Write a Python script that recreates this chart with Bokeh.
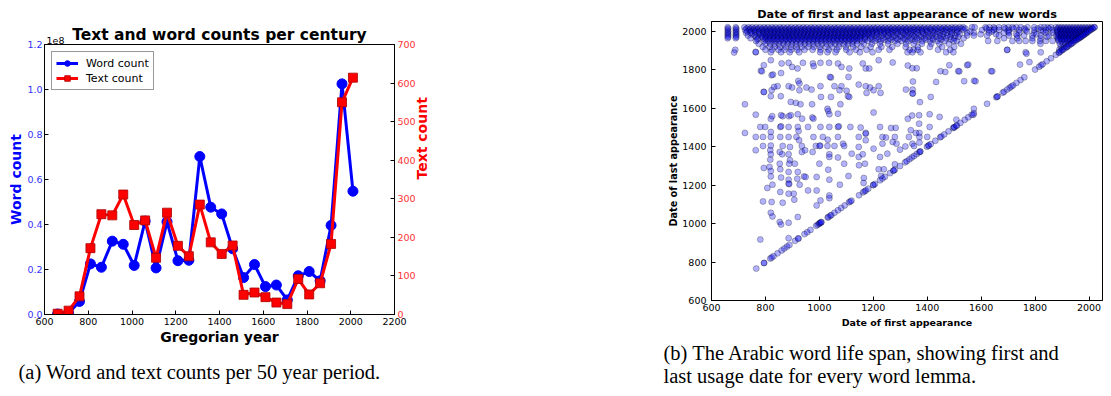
import math
from bokeh.plotting import figure
from bokeh.models import (Range1d, LinearAxis, Legend, LegendItem, Title,
                          FixedTicker, NumeralTickFormatter)
from bokeh.layouts import row
from bokeh.embed import file_html
from bokeh.resources import INLINE

# ---------------- Left panel data ----------------
years = [660, 710, 760, 810, 860, 910, 960, 1010, 1060, 1110, 1160, 1210, 1260, 1310,
         1360, 1410, 1460, 1510, 1560, 1610, 1660, 1710, 1760, 1810, 1860, 1910, 1960, 2010]
word_count_1e8 = [0.002, 0.006, 0.058, 0.225, 0.210, 0.326, 0.312, 0.218, 0.415, 0.207,
                  0.412, 0.239, 0.241, 0.702, 0.477, 0.447, 0.292, 0.164, 0.222, 0.124,
                  0.131, 0.065, 0.172, 0.191, 0.150, 0.396, 1.025, 0.548]
text_count = [2, 10, 47, 172, 260, 257, 311, 232, 244, 147, 264, 178, 151, 285,
              187, 157, 179, 51, 57, 45, 31, 27, 92, 52, 81, 183, 550, 614]
left_x_ticks = [600, 800, 1000, 1200, 1400, 1600, 1800, 2000, 2200]
word_ticks = [0.0, 0.2, 0.4, 0.6, 0.8, 1.0, 1.2]
text_ticks = [0, 100, 200, 300, 400, 500, 600, 700]

# ---------------- Right panel data (first / last appearance) ----------------
right_ticks = [600, 800, 1000, 1200, 1400, 1600, 1800, 2000]

band_levels = [2020, 2013, 2006, 1998, 1991, 1984, 1977, 1970, 1963, 1956, 1949, 1934, 1918,
               1903, 1890]
band_2020 = [660, 690, 722, 737, 751, 766, 780, 795, 809, 824, 838, 853, 867, 882, 896, 911, 925,
             940, 954, 969, 983, 998, 1012, 1027, 1041, 1056, 1070, 1085, 1099, 1114, 1128, 1143,
             1157, 1172, 1186, 1201, 1215, 1230, 1244, 1259, 1273, 1288, 1302, 1317, 1331, 1346,
             1360, 1375, 1389, 1404, 1418, 1433, 1447, 1462, 1476, 1491, 1505, 1520, 1534, 1566,
             1576, 1616, 1631, 1647, 1666, 1685, 1701, 1716, 1731, 1747, 1772, 1797, 1821, 1834,
             1846, 1859, 1877, 1888, 1899, 1910, 1921, 1932, 1943, 1954, 1965, 1976, 1987, 1998,
             2009, 2020]
band_2013 = [662, 692, 730, 744, 759, 773, 788, 802, 817, 831, 846, 860, 875, 889, 904, 918, 933,
             947, 962, 976, 991, 1005, 1020, 1034, 1049, 1063, 1078, 1092, 1107, 1121, 1136, 1150,
             1165, 1179, 1194, 1208, 1223, 1237, 1252, 1266, 1281, 1295, 1310, 1324, 1339, 1353,
             1368, 1382, 1397, 1411, 1426, 1440, 1455, 1469, 1484, 1498, 1513, 1527, 1541, 1620,
             1650, 1690, 1720, 1760, 1810, 1852, 1883, 1894, 1905, 1916, 1927, 1938, 1949, 1960,
             1971, 1982, 1993, 2004, 2013]
band_2006 = [660, 690, 725, 741, 756, 770, 786, 800, 815, 829, 844, 858, 873, 887, 902, 916, 931,
             945, 960, 974, 989, 1003, 1018, 1032, 1047, 1061, 1076, 1090, 1105, 1119, 1134, 1148,
             1163, 1177, 1192, 1206, 1221, 1235, 1250, 1264, 1279, 1293, 1308, 1322, 1337, 1351,
             1366, 1380, 1395, 1412, 1430, 1452, 1470, 1492, 1510, 1535, 1603, 1629, 1647, 1666,
             1703, 1741, 1765, 1797, 1821, 1840, 1865, 1882, 1893, 1904, 1915, 1926, 1937, 1948,
             1959, 1970, 1981, 1992, 2003]
band_1998 = [662, 692, 733, 748, 763, 777, 792, 806, 820, 834, 848, 862, 876, 890, 904, 918, 932,
             946, 960, 974, 988, 1002, 1016, 1030, 1044, 1058, 1072, 1086, 1100, 1114, 1128, 1142,
             1156, 1170, 1184, 1198, 1212, 1226, 1240, 1254, 1268, 1285, 1302, 1320, 1340, 1360,
             1380, 1400, 1420, 1440, 1462, 1485, 1515, 1560, 1640, 1700, 1770, 1830, 1881, 1892,
             1903, 1914, 1925, 1936, 1947, 1958, 1969, 1980, 1991]
band_1991 = [660, 690, 728, 745, 762, 778, 793, 807, 822, 836, 851, 865, 880, 894, 909, 923, 938,
             952, 967, 981, 996, 1010, 1025, 1039, 1054, 1068, 1083, 1097, 1112, 1126, 1141, 1155,
             1170, 1184, 1199, 1213, 1228, 1242, 1257, 1271, 1290, 1310, 1328, 1345, 1365, 1384,
             1402, 1425, 1448, 1472, 1492, 1510, 1548, 1573, 1629, 1685, 1703, 1741, 1797, 1840,
             1865, 1884, 1895, 1906, 1917, 1928, 1939, 1950, 1961, 1972, 1983, 1991]
band_1984 = [662, 692, 750, 775, 790, 804, 818, 832, 846, 860, 874, 888, 902, 916, 930, 944, 958,
             972, 986, 1000, 1014, 1028, 1042, 1056, 1070, 1084, 1098, 1112, 1126, 1140, 1154,
             1168, 1182, 1196, 1215, 1240, 1265, 1290, 1315, 1335, 1358, 1385, 1410, 1435, 1460,
             1490, 1520, 1598, 1655, 1730, 1805, 1886, 1897, 1908, 1919, 1930, 1941, 1952, 1963,
             1974, 1984]
band_1977 = [660, 690, 735, 760, 783, 798, 812, 827, 841, 856, 870, 885, 899, 914, 928, 943, 957,
             972, 986, 1001, 1015, 1030, 1044, 1059, 1073, 1088, 1102, 1117, 1131, 1146, 1160, 1175,
             1190, 1210, 1232, 1255, 1278, 1300, 1322, 1346, 1370, 1395, 1420, 1448, 1475, 1504,
             1548, 1573, 1622, 1666, 1703, 1734, 1759, 1790, 1821, 1852, 1878, 1889, 1900, 1911,
             1922, 1933, 1944, 1955, 1966, 1977]
band_1970 = [662, 692, 765, 787, 801, 815, 829, 843, 857, 871, 885, 899, 913, 927, 941, 955, 969,
             983, 997, 1011, 1025, 1039, 1053, 1067, 1081, 1095, 1109, 1123, 1137, 1151, 1170,
             1195, 1220, 1248, 1272, 1300, 1325, 1352, 1378, 1405, 1432, 1458, 1485, 1515, 1845,
             1883, 1894, 1905, 1916, 1927, 1938, 1949, 1960, 1970]
band_1963 = [660, 690, 745, 772, 790, 804, 819, 833, 848, 862, 877, 891, 906, 920, 935, 949, 964,
             978, 993, 1007, 1022, 1036, 1051, 1065, 1080, 1094, 1109, 1123, 1138, 1152, 1168, 1188,
             1210, 1235, 1260, 1285, 1312, 1338, 1362, 1390, 1418, 1445, 1470, 1500, 1535, 1685,
             1734, 1790, 1821, 1885, 1896, 1907, 1918, 1929, 1940, 1951, 1962]
band_1956 = [770, 800, 816, 831, 846, 861, 876, 891, 906, 921, 936, 951, 966, 981, 996, 1011,
             1026, 1041, 1056, 1071, 1086, 1101, 1116, 1131, 1148, 1170, 1195, 1218, 1242, 1268,
             1292, 1318, 1343, 1368, 1395, 1422, 1452, 1488, 1886, 1897, 1908, 1919, 1930, 1941,
             1952]
band_1949 = [765, 795, 810, 825, 840, 855, 870, 885, 900, 915, 930, 945, 960, 975, 990, 1005, 1020,
             1035, 1050, 1065, 1080, 1095, 1110, 1125, 1140, 1158, 1180, 1205, 1228, 1255, 1280,
             1305, 1330, 1356, 1382, 1410, 1438, 1465, 1498, 1510, 1626, 1660, 1716, 1741, 1765,
             1790, 1818, 1840, 1865, 1888, 1899, 1910, 1921, 1932, 1943]
band_1934 = [775, 800, 818, 834, 850, 866, 882, 898, 914, 930, 946, 962, 978, 994, 1010, 1026, 1042,
             1058, 1074, 1090, 1106, 1122, 1140, 1165, 1195, 1225, 1255, 1290, 1322, 1350, 1380,
             1415, 1445, 1480, 1525, 1820, 1892, 1903, 1914, 1925, 1934]
band_1918 = [790, 815, 835, 855, 875, 895, 915, 935, 958, 980, 1002, 1025, 1048, 1072, 1098, 1125,
             1155, 1190, 1230, 1270, 1320, 1365, 1410, 1455, 1500, 1896, 1907, 1918]
band_1903 = [688, 800, 825, 848, 870, 895, 918, 945, 975, 1005, 1035, 1065, 1100, 1135, 1175, 1220,
             1260, 1335, 1350, 1365, 1440, 1485, 1697, 1890, 1900]
band_1890 = [764, 820, 858, 890, 925, 1003, 1030, 1060, 1112, 1150, 1197, 1327, 1345, 1375, 1470,
             1497, 1765, 1821]
band_rows = [band_2020, band_2013, band_2006, band_1998, band_1991, band_1984, band_1977,
             band_1970, band_1963, band_1956, band_1949, band_1934, band_1918, band_1903,
             band_1890]

# (first, last) pairs for the scattered words between the band and the diagonal
mid_points = [
    (684, 1889), (764, 1892), (794, 1823), (783, 1794), (823, 1771), (820, 1849), (860, 1832),
    (886, 1835), (899, 1814), (919, 1806), (939, 1835), (976, 1832), (979, 1818), (1004, 1835),
    (1043, 1759), (1036, 1835), (1069, 1832), (1082, 1814), (1111, 1806), (1108, 1762),
    (1172, 1806), (1161, 1832), (1185, 1806), (1220, 1849), (1272, 1837), (1328, 1821),
    (1345, 1807), (1361, 1807), (1449, 1792), (1482, 1823), (1515, 1792), (1548, 1823),
    (1637, 1792), (1779, 1839), (1552, 1826), (1519, 1791), (1641, 1791), (1744, 1826),
    (1768, 1883), (1696, 1902), (858, 1782), (787, 1791), (828, 1774),
    (794, 1684), (823, 1693), (832, 1710), (845, 1714), (820, 1662), (857, 1662), (886, 1714),
    (899, 1707), (922, 1741), (926, 1728), (926, 1693), (952, 1707), (971, 1696), (1004, 1714),
    (1006, 1658), (1039, 1762), (1043, 1658), (1056, 1714), (1075, 1693), (1082, 1714),
    (1101, 1690), (1106, 1662), (1111, 1658), (1146, 1722), (1172, 1714), (1188, 1707),
    (1175, 1679), (1201, 1693), (1220, 1714), (1227, 1679), (1321, 1696), (1346, 1696),
    (1347, 1738), (1346, 1676), (1413, 1658), (1433, 1736), (1467, 1788), (1537, 1740),
    (1574, 1742), (1373, 1631), (1579, 1739), (724, 1620), (794, 1684), (1346, 1676),
    (764, 1566), (820, 1544), (825, 1558), (864, 1558), (858, 1563), (887, 1558), (894, 1563),
    (920, 1568), (936, 1545), (974, 1551), (978, 1545), (894, 1632), (913, 1627), (930, 1620),
    (973, 1620), (1030, 1596), (1033, 1585), (1037, 1568), (1069, 1571), (1078, 1620),
    (1201, 1577), (1328, 1544), (1344, 1561), (1370, 1563), (1409, 1568), (1446, 1554),
    (1508, 1540),
    (781, 1502), (799, 1502), (820, 1476), (820, 1450), (855, 1502), (858, 1505), (886, 1502),
    (920, 1502), (923, 1481), (958, 1502), (1004, 1502), (1037, 1502), (1069, 1502),
    (1072, 1505), (1115, 1502), (1153, 1499), (1172, 1471), (1225, 1502), (1266, 1497),
    (1283, 1497), (1339, 1485), (1370, 1519), (1409, 1502), (1332, 1450), (1358, 1471),
    (1371, 1471), (724, 1471),
    (764, 1450), (791, 1450), (791, 1403), (820, 1405), (855, 1450), (864, 1403), (886, 1450),
    (891, 1398), (915, 1450), (925, 1433), (935, 1403), (978, 1450), (987, 1403), (1001, 1403),
    (1003, 1405), (1013, 1450), (1031, 1436), (1030, 1403), (1069, 1450), (1056, 1403),
    (1088, 1415), (1092, 1403), (1146, 1450), (1146, 1398), (1172, 1467), (1172, 1433),
    (1201, 1389), (1234, 1450), (1234, 1415), (1247, 1447), (1272, 1424), (1280, 1450),
    (1286, 1415), (1299, 1384), (1319, 1401), (1345, 1415), (1351, 1403), (1371, 1421),
    (1400, 1450), (1371, 1450), (764, 1381),
    (818, 1381), (820, 1360), (818, 1332), (853, 1372), (862, 1360), (853, 1311), (886, 1360),
    (891, 1329), (888, 1311), (909, 1311), (935, 1372), (947, 1381), (975, 1372), (1000, 1311),
    (1037, 1360), (1037, 1346), (1069, 1343), (1092, 1311), (1120, 1363), (1146, 1346),
    (1161, 1360), (1169, 1311), (1147, 1303), (1225, 1346), (1252, 1363), (1280, 1308),
    (815, 1294),
    (794, 1289), (820, 1273), (820, 1245), (826, 1202), (855, 1282), (858, 1239), (886, 1268),
    (886, 1228), (886, 1207), (888, 1205), (920, 1268), (918, 1233), (927, 1202), (943, 1245),
    (949, 1242), (990, 1242), (1033, 1280), (1037, 1228), (1076, 1202), (1108, 1247),
    (1165, 1237), (1164, 1211), (1229, 1247), (1220, 1282), (1239, 1282),
    (807, 1185), (823, 1112), (791, 1115), (855, 1164), (864, 1108), (886, 1155), (905, 1155),
    (907, 1124), (958, 1172), (990, 1172), (1004, 1120), (1037, 1146), (1037, 1132),
    (990, 1094), (820, 1056), (826, 1037), (853, 1008), (858, 995), (886, 1004), (920, 1034),
    (781, 917), (886, 924), (1571, 1565), (1573, 1596),
]

# words whose first and last appearance fall in the same period (the diagonal)
diag_year = [766, 795, 795, 818, 823, 830, 845, 860, 870, 880, 889, 910, 922, 922, 945, 955, 967,
             988, 994, 1000, 1000, 1004, 1007, 1007, 1031, 1034, 1041, 1044, 1056, 1069, 1081,
             1094, 1110, 1115, 1119, 1147, 1162, 1168, 1172, 1181, 1200, 1200, 1206, 1225, 1234,
             1243, 1262, 1275, 1275, 1280, 1299, 1318, 1324, 1334, 1343, 1351, 1361, 1370, 1374,
             1374, 1399, 1405, 1405, 1413, 1430, 1448, 1452, 1463, 1479, 1496, 1500, 1500, 1508,
             1510, 1523, 1539, 1552, 1565, 1573, 1622, 1656, 1660, 1660, 1680, 1685, 1697, 1706,
             1712, 1718, 1731, 1746, 1760, 1800, 1815, 1822, 1828, 1843, 1859, 1877, 1888, 1890,
             1895, 1902, 1908, 1915, 1921, 1927, 1934, 1940, 1947, 1954, 1960, 1966, 1971, 1977,
             1983, 1989, 1995, 2001, 2007, 2013, 2020]

first_all, last_all = [], []
for lvl, xs in zip(band_levels, band_rows):
    first_all += xs
    last_all += [lvl] * len(xs)
for f, l in mid_points:
    first_all.append(f)
    last_all.append(l)
for d in diag_year:
    first_all.append(d)
    last_all.append(d)

FONT = "DejaVu Sans"
SERIF = "Liberation Serif"


def style_axis(ax, size, color="black", standoff=3):
    ax.axis_line_color = "black"
    ax.axis_line_width = 1
    ax.major_tick_line_color = "black"
    ax.major_tick_in = 4
    ax.major_tick_out = 0
    ax.minor_tick_line_color = None
    ax.major_label_text_font = FONT
    ax.major_label_text_font_size = size
    ax.major_label_text_color = color
    ax.major_label_standoff = standoff


def style_label(ax, text, size, color="black", standoff=2):
    ax.axis_label = text
    ax.axis_label_text_font = FONT
    ax.axis_label_text_font_size = size
    ax.axis_label_text_font_style = "bold"
    ax.axis_label_text_color = color
    ax.axis_label_standoff = standoff


def no_frame_align(p):
    try:
        p.frame_align = False
    except Exception:
        pass


# ---------------- Left figure ----------------
p1 = figure(width=548, height=396, x_range=Range1d(600, 2200), y_range=Range1d(0, 1.2),
            output_backend="svg", toolbar_location=None,
            min_border_left=44, min_border_right=154, min_border_top=44, min_border_bottom=82)
no_frame_align(p1)
p1.extra_y_ranges = {"text": Range1d(0, 700)}
p1.grid.visible = False
p1.outline_line_color = "black"
p1.background_fill_color = "white"
p1.border_fill_color = "white"

p1.xaxis.ticker = FixedTicker(ticks=left_x_ticks)
style_axis(p1.xaxis[0], "9.5px")
style_label(p1.xaxis[0], "Gregorian year", "14px", standoff=1)
p1.yaxis.ticker = FixedTicker(ticks=word_ticks)
p1.yaxis.formatter = NumeralTickFormatter(format="0.0")
style_axis(p1.yaxis[0], "9.5px", "#3333ff", standoff=2)
style_label(p1.yaxis[0], "Word count", "14px", color="blue", standoff=0)

right_ax = LinearAxis(y_range_name="text", ticker=FixedTicker(ticks=text_ticks))
style_axis(right_ax, "9.5px", "#ff3333")
style_label(right_ax, "Text count", "14px", color="red", standoff=3)
try:
    right_ax.axis_label_orientation = math.pi / 2
except Exception:
    pass
p1.add_layout(right_ax, "right")

wl = p1.line(years, word_count_1e8, line_color="blue", line_width=3)
ws = p1.scatter(years, word_count_1e8, marker="circle", size=10, fill_color="blue",
                line_color="blue")
tl = p1.line(years, text_count, y_range_name="text", line_color="red", line_width=3)
ts = p1.scatter(years, text_count, y_range_name="text", marker="square", size=9,
                fill_color="red", line_color="#aa0000", line_width=0.8)

legend = Legend(items=[LegendItem(label="Word count", renderers=[wl, ws]),
                       LegendItem(label="Text count", renderers=[tl, ts])],
                location="top_left")
legend.label_text_font = FONT
legend.label_text_font_size = "11px"
legend.label_text_color = "black"
legend.border_line_color = "#333333"
legend.border_line_width = 1.2
legend.padding = 4
legend.spacing = 1
legend.margin = 7
legend.glyph_height = 14
legend.glyph_width = 22
legend.label_height = 14
legend.label_standoff = 8
p1.add_layout(legend)

# scale exponent of the word-count axis (just above the frame, left-aligned)
p1.add_layout(Title(text="1e8", align="left", offset=2, text_font=FONT,
                    text_font_size="9.5px", text_font_style="normal", text_color="black",
                    standoff=2), "above")
p1.add_layout(Title(text="Text and word counts per century", align="center",
                    text_font=FONT, text_font_size="15.5px", text_font_style="bold",
                    text_color="black", standoff=-20.5), "above")
p1.add_layout(Title(text="(a) Word and text counts per 50 year period.", align="left",
                    offset=-26, text_font=SERIF, text_font_size="20.5px",
                    text_font_style="normal", text_color="black", standoff=22), "below")

# ---------------- Right figure ----------------
p2 = figure(width=563, height=396, x_range=Range1d(600, 2050), y_range=Range1d(600, 2050),
            output_backend="svg", toolbar_location=None,
            min_border_left=163, min_border_right=9, min_border_top=21, min_border_bottom=96)
no_frame_align(p2)
p2.grid.visible = False
p2.outline_line_color = "black"
p2.background_fill_color = "white"
p2.border_fill_color = "white"
p2.xaxis.ticker = FixedTicker(ticks=right_ticks)
p2.yaxis.ticker = FixedTicker(ticks=right_ticks)
style_axis(p2.xaxis[0], "9.5px")
style_axis(p2.yaxis[0], "9.5px", standoff=5)
style_label(p2.xaxis[0], "Date of first appearance", "9.5px", standoff=3)
style_label(p2.yaxis[0], "Date of last appearance", "9.7px", standoff=0)

p2.scatter(first_all, last_all, marker="circle", size=6, fill_color="blue", fill_alpha=0.3,
           line_color="black", line_alpha=0.45, line_width=0.6)

p2.add_layout(Title(text="Date of first and last appearance of new words", align="center",
                    text_font=FONT, text_font_size="11.3px", text_font_style="bold",
                    text_color="black", standoff=1), "above")
p2.add_layout(Title(text="(b) The Arabic word life span, showing first and\n"
                         "last usage date for every word lemma.",
                    align="left", offset=-48, text_font=SERIF, text_font_size="20.5px",
                    text_font_style="normal", text_color="black", text_line_height=1.08,
                    standoff=18), "below")

layout = row(p1, p2)
open("out.html", "w").write(file_html(layout, INLINE))
